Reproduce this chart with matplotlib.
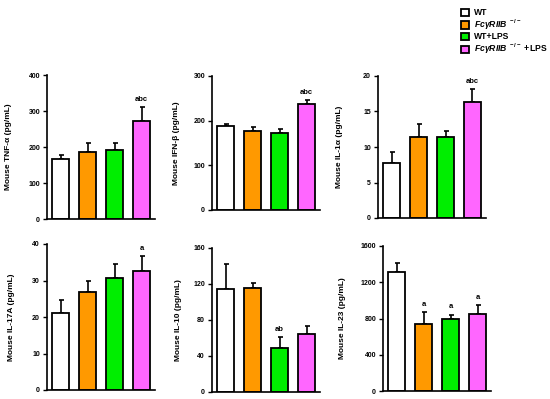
import matplotlib
matplotlib.use("Agg")
import matplotlib.pyplot as plt
from matplotlib.patches import Patch

plt.rcParams['font.family'] = ['Liberation Sans', 'DejaVu Sans']
plt.rcParams['font.weight'] = 'bold'
plt.rcParams['mathtext.fontset'] = 'custom'
plt.rcParams['mathtext.it'] = 'Liberation Sans:italic:bold'
plt.rcParams['mathtext.rm'] = 'Liberation Sans:bold'

groups = ['WT', r'$Fc\gamma RIIB^{\ -/-}$', 'WT+LPS', r'$Fc\gamma RIIB^{\ -/-}$ +LPS']
colors = ['white', '#ff9900', '#00ee00', '#ff66ff']

# cytokine panels: label, means, errors, significance letters, y ticks
labels = ['Mouse TNF-α (pg/mL)', 'Mouse IFN-β (pg/mL)', 'Mouse IL-1α (pg/mL)',
          'Mouse IL-17A (pg/mL)', 'Mouse IL-10 (pg/mL)', 'Mouse IL-23 (pg/mL)']
means = [[166, 187, 191, 272],
         [188, 176, 173, 238],
         [7.7, 11.4, 11.4, 16.3],
         [21.2, 26.8, 30.6, 32.6],
         [114, 115.6, 49.4, 65],
         [1309, 739, 791, 850]]
errs = [[12, 25, 19, 39],
        [4, 10, 9, 8],
        [1.55, 1.9, 0.9, 1.8],
        [3.4, 3.1, 3.9, 4.1],
        [28, 5, 11.6, 8.6],
        [99, 129, 51, 99]]
letters = [['', '', '', 'abc'],
           ['', '', '', 'abc'],
           ['', '', '', 'abc'],
           ['', '', '', 'a'],
           ['', '', 'ab', ''],
           ['', 'a', 'a', 'a']]
yticks = [[0, 100, 200, 300, 400],
          [0, 100, 200, 300],
          [0, 5, 10, 15, 20],
          [0, 10, 20, 30, 40],
          [0, 40, 80, 120, 160],
          [0, 400, 800, 1200, 1600]]

W, H = 550, 399
fig = plt.figure(figsize=(5.5, 3.99), dpi=100)

# axes boxes in pixels: left spine x, top y, bottom y
boxes = [(47, 75, 219), (212, 76, 210), (378, 76, 218),
         (47, 244, 390), (212, 248, 392), (383, 246, 391)]
label_x = [12, 180, 343, 15, 182, 346]
axw = 108

for i, (x0, top, bot) in enumerate(boxes):
    ax = fig.add_axes([x0 / W, 1 - bot / H, axw / W, (bot - top) / H])
    xs = range(4)
    ax.bar(xs, means[i], width=0.65, color=colors, edgecolor='black', linewidth=1.3, zorder=2)
    ax.errorbar(xs, means[i], yerr=[[0] * 4, errs[i]], fmt='none', ecolor='black',
                elinewidth=1.2, capsize=1.8, capthick=1.2, zorder=1)
    top_val = yticks[i][-1]
    for x, m, e, t in zip(xs, means[i], errs[i], letters[i]):
        if t:
            ax.text(x, m + e + top_val * 0.03, t, ha='center', va='bottom',
                    fontsize=5.5, fontweight='bold')
    ax.set_xlim(-0.5, 3.5)
    ax.set_ylim(0, top_val)
    ax.set_yticks(yticks[i])
    ax.set_xticks([])
    ax.tick_params(axis='y', direction='out', length=3, width=1, labelsize=5, pad=2)
    for s in ['top', 'right']:
        ax.spines[s].set_visible(False)
    for s in ['left', 'bottom']:
        ax.spines[s].set_linewidth(1.2)
    ax.set_ylabel(labels[i], fontsize=6, fontweight='bold')
    ax.yaxis.set_label_coords((label_x[i] - x0) / axw, 0.5)

handles = [Patch(facecolor=c, edgecolor='black', linewidth=1.3) for c in colors]
fig.legend(handles, groups, loc='upper left', bbox_to_anchor=(0.823, 1.0),
           frameon=False, fontsize=6.2, handlelength=0.9, handleheight=0.9,
           handletextpad=0.6, labelspacing=0.05, borderpad=0.45)

fig.savefig('out.png', dpi=100)
